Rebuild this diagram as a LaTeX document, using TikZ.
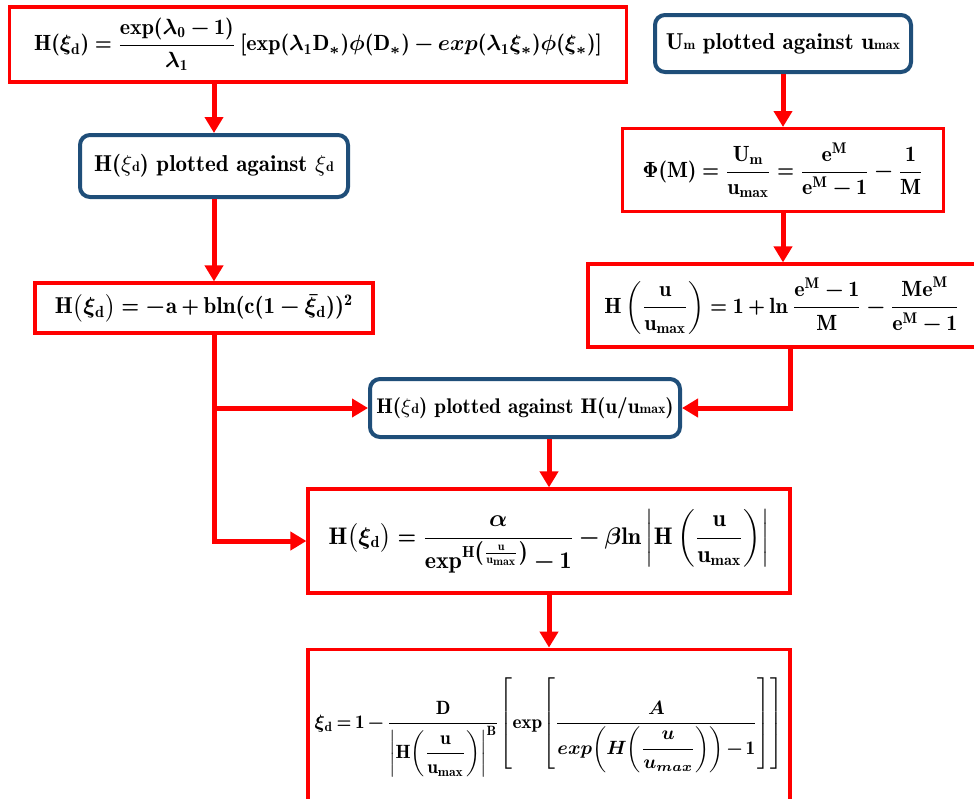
\RequirePackage{fix-cm}
\documentclass[tikz,border=0pt]{standalone}
\usepackage{amsmath,amssymb}
\usetikzlibrary{arrows.meta,positioning}
\SetSymbolFont{operators}{bold}{OT1}{cmr}{b}{n}
\definecolor{boxblue}{RGB}{31,78,121}
\newcommand{\tightmath}{\medmuskip=3mu\relax\thickmuskip=4mu\relax}
\newcommand{\tightermath}{\thinmuskip=1mu\relax\medmuskip=2mu\relax\thickmuskip=3mu\relax}
\tikzset{
  eqbox/.style={draw=red,line width=1.6pt,fill=white,inner sep=2pt,
    font=\fontsize{#1}{#1}\selectfont\boldmath,execute at begin node=\tightmath},
  eqbox/.default=11,
  plotbox/.style={draw=boxblue,line width=2pt,rounded corners=5pt,fill=white,inner sep=2pt,
    font=\fontsize{#1}{13}\fontseries{b}\selectfont},
  plotbox/.default=11.5,
  flow/.style={draw=red,line width=2.5pt,-{Triangle[width=9pt,length=8pt]}}
}
\newcommand{\lo}[1]{{\fontsize{7}{8}\selectfont #1}}
\newcommand{\umax}{\mathrm{u}_{\mathrm{max}}}

\begin{document}
\begin{tikzpicture}[x=0.5pt,y=-0.5pt,node distance=26.5pt]
  \useasboundingbox (0,0) rectangle (974,798);

  % left column
  \node[eqbox,minimum width=308.5pt,minimum height=37.5pt] (b1) at (318,44.5)
    {$\mathrm{H}(\xi_{\mathrm d})=\dfrac{\mathrm{exp}(\lambda_0-1)}{\lambda_1}\,[\mathrm{exp}(\lambda_1\mathrm{D}_*)\phi(\mathrm{D}_*)-exp(\lambda_1\xi_*)\phi(\xi_*)]$};
  \node[plotbox,minimum width=134pt,minimum height=31pt] (b5) at (214,166)
    {H($\xi$\lo{d}) plotted against $\xi$\lo{d}};
  \node[eqbox=11.5,minimum width=169pt,minimum height=25pt] (b6) at (204,308)
    {$\mathrm H\bigl(\xi_{\mathrm d}\bigr)=-\mathrm a+\mathrm{bln}(\mathrm c(1-\bar\xi_{\mathrm d}))^2$};

  % right column
  \node[plotbox,minimum width=128pt,minimum height=28.5pt] (b2) at (783,43.5)
    {U\lo{m} plotted against u\lo{max}};
  \node[eqbox,below=of b2,minimum width=160.5pt,minimum height=41.5pt] (b3)
    {$\Phi(\mathrm M)=\dfrac{\mathrm U_{\mathrm m}}{\umax}=\dfrac{\mathrm e^{\mathrm M}}{\mathrm e^{\mathrm M}-1}-\dfrac{1}{\mathrm M}$};
  \node[eqbox,minimum width=194pt,minimum height=41.5pt] (b4) at (782,305.5)
    {$\mathrm H\left(\dfrac{\mathrm u}{\umax}\right)=1+\ln\dfrac{\mathrm e^{\mathrm M}-1}{\mathrm M}-\dfrac{\mathrm{Me}^{\mathrm M}}{\mathrm e^{\mathrm M}-1}$};

  % middle
  \node[plotbox=10.6,minimum width=155pt,minimum height=29pt] (b7) at (525,408)
    {H($\xi$\lo{d}) plotted against H(u/u\lo{max})};
  \node[eqbox=12,minimum width=241pt,minimum height=52pt] (b8) at (549,541)
    {$\mathrm H\bigl(\xi_{\mathrm d}\bigr)=\dfrac{\alpha}{\mathrm{exp}^{\mathrm H\left(\frac{\mathrm u}{\umax}\right)}-1}-\beta\mathrm{ln}\left|\mathrm H\left(\dfrac{\mathrm u}{\umax}\right)\right|$};
  \node[eqbox=9.6,below=of b8,minimum width=241pt,minimum height=78pt,anchor=north,
        execute at begin node=\tightermath] (b9)
    {$\xi_{\mathrm d}=1-\dfrac{\mathrm D}{\left|\mathrm H\!\left(\dfrac{\mathrm u}{\umax}\right)\right|^{\mathrm B}}\!\left[\mathrm{exp}\!\left[\dfrac{A}{exp\!\left(H\!\left(\dfrac{u}{u_{max}}\right)\right)-1}\right]\right]$};

  \draw[flow] (b5.north |- b1.south) -- (b5.north);
  \draw[flow] (b5.south) -- (b5.south |- b6.north);
  \draw[flow] (b5.south |- b6.south) |- (b8.west);
  \draw[flow] (b5.south |- b7.west) -- (b7.west);
  \draw[flow] (b2.south) -- (b2.south |- b3.north);
  \draw[flow] (b3.south) -- (b3.south |- b4.north);
  \draw[flow] ([xshift=4pt]b4.south) |- (b7.east);
  \draw[flow] (b7.south -| b8.north) -- (b8.north);
  \draw[flow] (b8.south) -- (b9.north);
\end{tikzpicture}
\end{document}
